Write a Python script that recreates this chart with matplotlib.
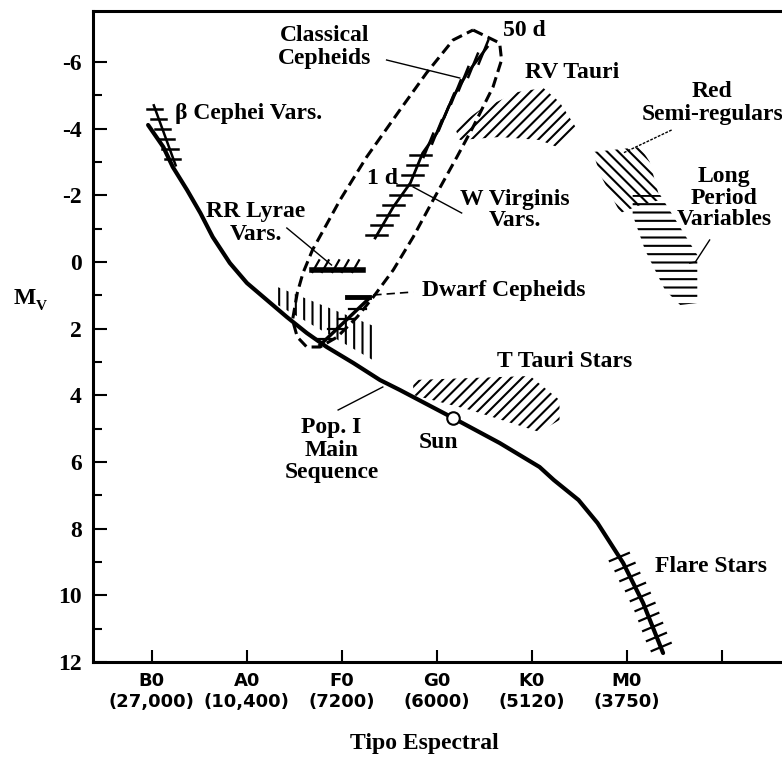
import matplotlib.pyplot as plt

plt.rcParams['font.family'] = 'Liberation Serif'
plt.rcParams['font.weight'] = 'bold'
plt.rcParams['hatch.linewidth'] = 1.5

# main sequence (spectral index: B0=0, A0=1 ..., absolute magnitude)
ms_x = [-0.04, 0.12, 0.22, 0.37, 0.51, 0.64, 0.82, 1.0, 1.21, 1.42, 1.63, 1.84, 2.12,
        2.4, 2.61, 3.17, 3.66, 4.08, 4.23, 4.49, 4.69, 4.96, 5.17, 5.38]
ms_M = [-4.11, -3.45, -2.85, -2.16, -1.47, -0.75, 0.03, 0.63, 1.14, 1.65, 2.13, 2.55, 3.03,
        3.54, 3.84, 4.68, 5.43, 6.15, 6.54, 7.14, 7.83, 9.03, 10.23, 11.73]
sun_x, sun_M = 3.17, 4.68

# instability strip envelope (dashed loop)
loop_x = [3.38, 3.66, 3.68, 3.59, 3.38, 3.21, 2.96, 2.75, 2.54, 2.33, 2.16, 1.95,
          1.77, 1.63, 1.53, 1.48, 1.53, 1.59, 1.69, 1.98, 2.26, 2.61, 2.89, 3.17]
loop_M = [-6.96, -6.57, -6.06, -5.25, -4.05, -3.15, -1.86, -0.75, 0.24, 1.05, 1.65, 2.25,
          2.55, 2.55, 2.25, 1.74, 0.93, 0.33, -0.36, -1.86, -3.15, -4.56, -5.67, -6.66]

# cepheid strip
cep_x = [2.35, 2.54, 2.72, 2.85, 3.0, 3.17, 3.32, 3.53]
cep_M = [-0.72, -1.65, -2.37, -3.27, -3.87, -4.95, -5.67, -6.45]
wv_x = [2.37, 2.43, 2.49, 2.55, 2.63, 2.70, 2.75, 2.80, 2.84]
wv_M = [-0.8, -1.1, -1.4, -1.7, -2.0, -2.3, -2.6, -2.9, -3.2]
cc_x = [2.91, 3.0, 3.07, 3.13, 3.2, 3.28, 3.38, 3.49]
cc_M = [-3.5, -3.9, -4.3, -4.7, -5.1, -5.5, -5.9, -6.3]

# RR Lyrae
rr_x = [1.68, 2.22]
rr_M = [0.24, 0.24]
rr_tick_x = [1.72, 1.82, 1.93, 2.03, 2.14]

# dwarf cepheids
dc_x = [2.29, 1.77]
dc_M = [1.08, 2.49]
dc_bar_x = [2.05, 2.29]
dc_bar_M = [1.05, 1.05]
dc_tick_x = [2.17, 2.06, 1.95, 1.84]
dc_tick_M = [1.4, 1.7, 2.0, 2.3]

# beta Cephei
bc_x = [0.02, 0.25]
bc_M = [-4.7, -2.9]
bc_tick_x = [0.03, 0.07, 0.11, 0.15, 0.19, 0.22]
bc_tick_M = [-4.6, -4.3, -4.0, -3.7, -3.4, -3.1]

# flare stars
fl_x = [4.92, 4.98, 5.03, 5.09, 5.14, 5.19, 5.23, 5.27, 5.31, 5.36]
fl_M = [8.85, 9.15, 9.45, 9.75, 10.05, 10.35, 10.65, 10.95, 11.25, 11.55]

# hatched regions
ast_x = [1.27, 2.36, 2.36, 1.27]
ast_M = [0.69, 1.95, 3.0, 1.2]
rvt_x = [3.19, 3.45, 3.85, 4.12, 4.29, 4.48, 4.29, 4.08, 3.66, 3.24]
rvt_M = [-4.02, -4.56, -5.10, -5.22, -4.80, -3.96, -3.42, -3.66, -3.75, -3.66]
srg_x = [4.64, 5.14, 5.24, 5.35, 5.14, 4.93, 4.72]
srg_M = [-3.30, -3.45, -3.0, -1.86, -1.71, -1.47, -2.61]
lpv_x = [5.06, 5.35, 5.74, 5.74, 5.56, 5.4, 5.19, 5.06]
lpv_M = [-2.01, -2.01, -0.21, 1.23, 1.29, 0.84, -0.36, -1.41]
tta_x = [2.75, 3.98, 4.29, 4.29, 4.08, 3.35, 2.75]
tta_M = [3.54, 3.42, 4.14, 4.74, 5.1, 4.44, 3.99]

xticklabels = ['B0\n(27,000)', 'A0\n(10,400)', 'F0\n(7200)', 'G0\n(6000)',
               'K0\n(5120)', 'M0\n(3750)', '']

fig = plt.figure(figsize=(7.82, 7.58), dpi=100)
ax = fig.add_axes([93 / 782, 96 / 758, 743 / 782, 651 / 758])
ax.set_xlim(-0.62, 7.2)
ax.set_ylim(12, -7.53)

# regions
for px, pm, h in [(ast_x, ast_M, '||'), (rvt_x, rvt_M, '///'), (srg_x, srg_M, '\\\\\\'),
                  (lpv_x, lpv_M, '--'), (tta_x, tta_M, '///')]:
    ax.fill(px, pm, facecolor='none', edgecolor='black', linewidth=0, hatch=h)

ax.plot(ms_x, ms_M, color='black', lw=3, solid_capstyle='round',
        solid_joinstyle='round', zorder=3)
ax.plot(sun_x, sun_M, 'o', ms=9, mfc='white', mec='black', mew=1.5, zorder=5)

ax.plot(loop_x + loop_x[:1], loop_M + loop_M[:1], color='black', lw=2.2,
        ls=(0, (3.5, 1.8)))

ax.plot(cep_x, cep_M, color='black', lw=2)
for x, m in zip(wv_x, wv_M):
    ax.plot([x - 0.12, x + 0.1], [m, m], color='black', lw=1.8)
for x, m in zip(cc_x, cc_M):
    ax.plot([x - 0.05, x + 0.05], [m + 0.35, m - 0.35], color='black', lw=1.8)

ax.plot(rr_x, rr_M, color='black', lw=4)
for x in rr_tick_x:
    ax.plot([x - 0.03, x + 0.04], [0.3, -0.05], color='black', lw=1.6)

ax.plot(dc_x, dc_M, color='black', lw=2.5)
ax.plot(dc_bar_x, dc_bar_M, color='black', lw=3.5)
for x, m in zip(dc_tick_x, dc_tick_M):
    ax.plot([x - 0.1, x + 0.08], [m, m], color='black', lw=1.6)

ax.plot(bc_x, bc_M, color='black', lw=1.8)
for x, m in zip(bc_tick_x, bc_tick_M):
    ax.plot([x - 0.08, x + 0.08], [m, m], color='black', lw=1.8)

for x, m in zip(fl_x, fl_M):
    ax.plot([x - 0.1, x + 0.1], [m + 0.12, m - 0.12], color='black', lw=1.6)

# leader lines
ax.plot([2.47, 3.24], [-6.06, -5.52], color='black', lw=1)
ax.plot([1.42, 1.89], [-1.02, 0.09], color='black', lw=1)
ax.plot([2.75, 3.26], [-2.25, -1.47], color='black', lw=1)
ax.plot([1.96, 2.43], [4.44, 3.75], color='black', lw=1)
ax.plot([5.47, 4.96], [-3.96, -3.27], color='black', lw=1, ls=(0, (2, 1)))
ax.plot([5.87, 5.72, 5.66], [-0.66, 0.0, 0.03], color='black', lw=1)
ax.plot([2.33, 2.75], [0.99, 0.9], color='black', lw=1.2, ls=(0, (5, 3)))

fs = 17
ax.text(1.82, -6.45, 'Classical\nCepheids', fontsize=fs, ha='center', va='center', linespacing=1.15)
ax.text(3.69, -6.96, '50 d', fontsize=fs, va='center')
ax.text(0.24, -4.47, 'β Cephei Vars.', fontsize=fs, va='center')
ax.text(4.42, -5.7, 'RV Tauri', fontsize=fs, ha='center', va='center')
ax.text(5.9, -4.77, 'Red\nSemi-regulars', fontsize=fs, ha='center', va='center', linespacing=1.1)
ax.text(6.02, -1.92, 'Long\nPeriod\nVariables', fontsize=fs, ha='center', va='center', linespacing=1.05)
ax.text(2.26, -2.52, '1 d', fontsize=fs, va='center')
ax.text(3.82, -1.56, 'W Virginis\nVars.', fontsize=fs, ha='center', va='center', linespacing=1.05)
ax.text(1.09, -1.17, 'RR Lyrae\nVars.', fontsize=fs, ha='center', va='center', linespacing=1.1)
ax.text(2.84, 0.84, 'Dwarf Cepheids', fontsize=fs, va='center')
ax.text(3.63, 2.97, 'T Tauri Stars', fontsize=fs, va='center')
ax.text(1.89, 5.64, 'Pop. I\nMain\nSequence', fontsize=fs, ha='center', va='center', linespacing=1.1)
ax.text(3.02, 5.4, 'Sun', fontsize=fs, ha='center', va='center')
ax.text(5.29, 9.15, 'Flare Stars', fontsize=fs, va='center')

# axes styling
for s in ['left', 'bottom', 'top']:
    ax.spines[s].set_linewidth(2.2)
ax.spines['right'].set_visible(False)

ax.set_xticks(range(7))
ax.set_xticklabels(xticklabels, family='DejaVu Sans', fontweight='bold', fontsize=13)
ax.tick_params(axis='x', direction='in', length=8.5, width=1.5, pad=7)

ax.set_yticks(range(-6, 13, 2))
ax.set_yticklabels([str(v) for v in range(-6, 13, 2)], fontsize=17)
ax.set_yticks(range(-5, 12, 2), minor=True)
ax.tick_params(axis='y', which='major', direction='in', length=10, width=1.5, pad=8)
ax.tick_params(axis='y', which='minor', direction='in', length=6.5, width=1.5)
ax.tick_params(top=False, right=False, which='both')

fig.text(25 / 782, 1 - 298 / 758, 'M', fontsize=17, ha='center', va='center')
fig.text(41 / 782, 1 - 307 / 758, 'V', fontsize=11, ha='center', va='center')
fig.text(424 / 782, 1 - 743 / 758, 'Tipo Espectral', fontsize=17, ha='center', va='center')

fig.savefig('out.png', dpi=100)
